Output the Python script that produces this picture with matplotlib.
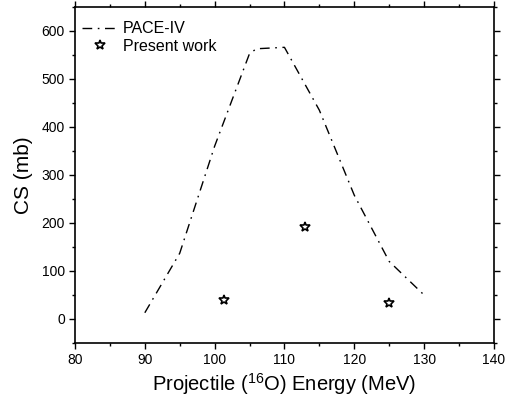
import matplotlib
matplotlib.use("Agg")
import matplotlib.pyplot as plt
from matplotlib.ticker import MultipleLocator

plt.rcParams['font.family'] = ['Liberation Sans', 'DejaVu Sans']
plt.rcParams['mathtext.fontset'] = 'custom'
plt.rcParams['mathtext.rm'] = 'Liberation Sans'
plt.rcParams['mathtext.default'] = 'regular'

# PACE-IV calculation
pace_energy = [90, 95, 100, 105, 106, 110, 115, 120, 125, 130]
pace_cs = [13, 137, 360, 553, 563, 566, 435, 258, 120, 50]

# Present work
exp_energy = [101.4, 112.9, 125.0]
exp_cs = [40, 191, 34]

fig = plt.figure(figsize=(5.05, 4.0), dpi=100)
ax = fig.add_axes([0.1485, 0.1425, 0.8295, 0.84])

ax.plot(pace_energy, pace_cs, color='black', linewidth=1.0,
        linestyle=(0, (7, 4, 1.2, 4)), label='PACE-IV')
ax.plot(exp_energy, exp_cs, linestyle='none', marker='*', markersize=7,
        markerfacecolor='white', markeredgecolor='black', markeredgewidth=1.2,
        label='Present work')

ax.set_xlim(80, 140)
ax.set_ylim(-50, 650)
ax.xaxis.set_major_locator(MultipleLocator(10))
ax.xaxis.set_minor_locator(MultipleLocator(5))
ax.yaxis.set_major_locator(MultipleLocator(100))
ax.yaxis.set_minor_locator(MultipleLocator(50))
ax.tick_params(which='both', direction='out', top=True, right=True,
               labelsize=10, width=1.0, pad=3)
ax.tick_params(which='major', length=4.3)
ax.tick_params(which='minor', length=2.2)
for s in ax.spines.values():
    s.set_linewidth(1.2)

ax.set_xlabel('Projectile ($^{16}$O) Energy (MeV)', fontsize=14.5, labelpad=3)
ax.set_ylabel('CS (mb)', fontsize=15, labelpad=6)

ax.legend(loc='upper left', bbox_to_anchor=(0.0015, 0.976), frameon=False,
          fontsize=11.5, handlelength=2.2, borderaxespad=0.0,
          labelspacing=0.16, handletextpad=0.37)

fig.savefig('out.png', dpi=100)
